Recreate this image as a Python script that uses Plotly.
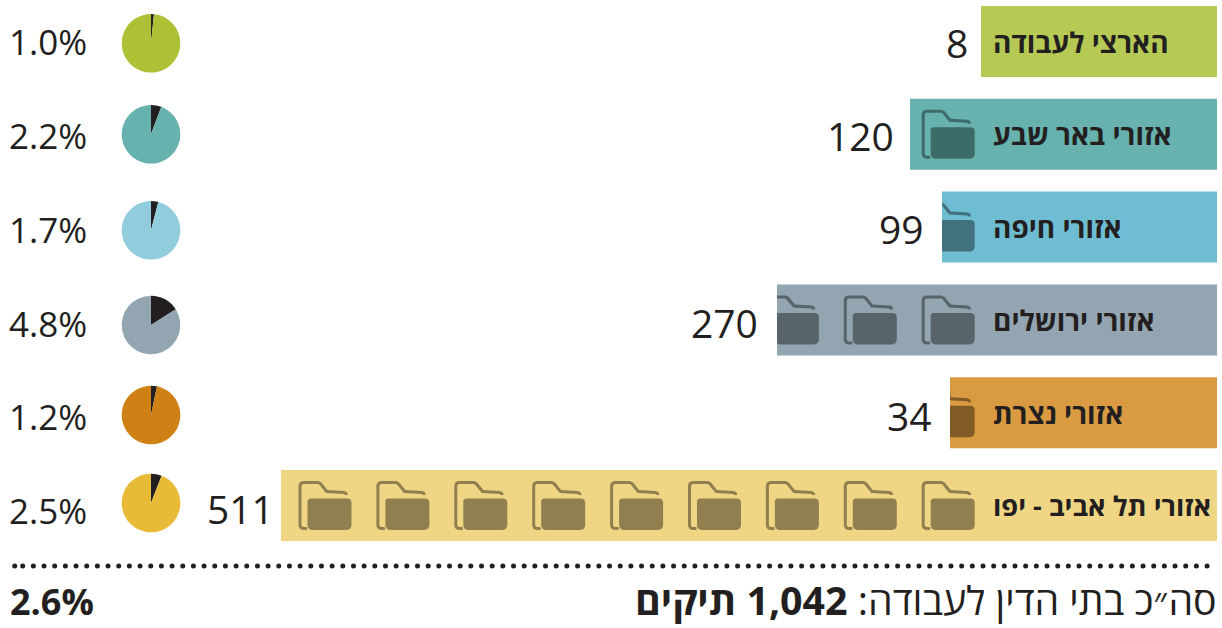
import numpy as np
import plotly.graph_objects as go

# ---- data ----
regions = ["הארצי לעבודה", "אזורי באר שבע", "אזורי חיפה", "אזורי ירושלים", "אזורי נצרת", "אזורי תל אביב - יפו"]
cases = [8, 120, 99, 270, 34, 511]
bar_lengths = [236, 307, 275, 440, 267, 936]
folder_counts = [0, 1, 1, 3, 1, 9]
pct_labels = ["1.0%", "2.2%", "1.7%", "4.8%", "1.2%", "2.5%"]
wedge_shares = [1.6, 5.7, 4.0, 16.0, 3.3, 5.9]
bar_colors = ["#b6c955", "#67b2ae", "#6fbdd2", "#93a5b1", "#d99a42", "#f0d684"]
pie_colors = ["#aec136", "#67b2ae", "#91cddd", "#93a5b1", "#cf8116", "#e7bb38"]
total_label = "סה״כ בתי הדין לעבודה: <b>1,042 תיקים</b>"
total_pct = "2.6%"

W, H = 1222, 628
RIGHT = 1217
TOP_ROW = 41.5
PITCH = 92.8
PIE_Y = [43.3, 134.3, 230.3, 325, 415, 503]
PCT_Y = [41.5, 135.5, 229.5, 323.5, 416.5, 510]
VALUE_GAP = [13, 16, 18, 19, 18, 7]
PIE_CX, PIE_R = 151, 29.3
FONT = "Open Sans"
INK = "#231f20"

def px(v):
    return RIGHT - v

def row(p):
    return (p - TOP_ROW) / PITCH

# folder glyph, in pixels relative to the right end of its body and the row centre
BODY = [(-44, -5), (-42, -7), (-3.5, -7), (-1, -6), (0, -3.5), (0, 20), (-1.2, 23.2), (-4.5, 24.5),
        (-40, 24.5), (-43, 23), (-44, 20)]
OUTLINE = [(-44.5, 24.5), (-49, 24.5), (-51.7, 23.3), (-53, 20.5), (-53, -20.5), (-51.7, -23.3), (-49, -24.5),
           (-33, -24.5), (-30, -23), (-24, -15.5), (-7, -14.5), (-4.5, -13.3), (-3.5, -10.5), (-6.5, -10.5),
           (-8, -11.5), (-25.5, -12.5), (-32, -20.5), (-33.5, -21.5), (-48.5, -21.5), (-50, -20),
           (-50, 20), (-48.5, 21.5), (-44.5, 21.5)]

fig = go.Figure()
idx = list(range(len(regions)))
fig.add_bar(
    y=idx, x=bar_lengths, orientation="h", width=71 / PITCH,
    marker=dict(color=bar_colors, line_width=0), hoverinfo="skip", showlegend=False,
)

for i, (n, L) in enumerate(zip(folder_counts, bar_lengths)):
    for k in range(n):
        right_px = 974.7 - 77.9 * k
        for glyph in (BODY, OUTLINE):
            xs = [min(px(right_px + dx), L) for dx, _ in glyph]   # clipped at the bar's end
            ys = [i + dy / PITCH for _, dy in glyph]
            fig.add_scatter(
                x=xs + xs[:1], y=ys + ys[:1], mode="lines", fill="toself",
                fillcolor="rgba(0,0,0,0.4)", line=dict(width=0),
                hoverinfo="skip", showlegend=False,
            )

# dotted rule
dots = np.concatenate([[14.7], np.arange(22.7, 1217, 10.67)])
fig.add_scatter(
    x=px(dots), y=np.full(dots.shape, row(566)), mode="markers",
    marker=dict(size=5, color=INK), hoverinfo="skip", showlegend=False,
)

# pies
for share, col, cy in zip(wedge_shares, pie_colors, PIE_Y):
    fig.add_pie(
        values=[share, 100 - share], marker=dict(colors=[INK, col], line_width=0),
        sort=False, direction="clockwise", rotation=0, textinfo="none",
        hoverinfo="skip", showlegend=False,
        domain=dict(x=[(PIE_CX - PIE_R) / W, (PIE_CX + PIE_R) / W],
                    y=[1 - (cy + PIE_R) / H, 1 - (cy - PIE_R) / H]),
    )

ann = []
def text(x_px, y_px, s, size, anchor, bold=False):
    ann.append(dict(
        x=px(x_px), y=row(y_px), xref="x", yref="y", text=f"<b>{s}</b>" if bold else s,
        showarrow=False, xanchor=anchor, yanchor="middle", align=anchor,
        font=dict(family=FONT, size=size, color=INK), borderpad=0, borderwidth=0,
    ))

for i, (name, val, L, pct, cy, gap) in enumerate(zip(regions, cases, bar_lengths, pct_labels, PCT_Y, VALUE_GAP)):
    text(993, TOP_ROW + i * PITCH, name, 27.2 if len(name) > 15 else 28, "left", bold=True)
    text(px(L) - gap, 42.5 + i * 93.2, str(val), 39, "right")
    text(87, cy, pct, 35, "right")

text(1217, 600, total_label, 39.3, "right")
text(10, 601, total_pct, 36, "left", bold=True)

fig.update_layout(
    width=W, height=H, margin=dict(l=0, r=0, t=0, b=0),
    paper_bgcolor="white", plot_bgcolor="white",
    xaxis=dict(range=[RIGHT, RIGHT - W], visible=False, fixedrange=True),
    yaxis=dict(range=[row(H), row(0)], visible=False, fixedrange=True),
    annotations=ann, barmode="overlay", showlegend=False,
)
fig.write_html("out.html", config=dict(displayModeBar=False),
               post_script="document.body.style.margin='0';document.documentElement.style.overflow='hidden';")
